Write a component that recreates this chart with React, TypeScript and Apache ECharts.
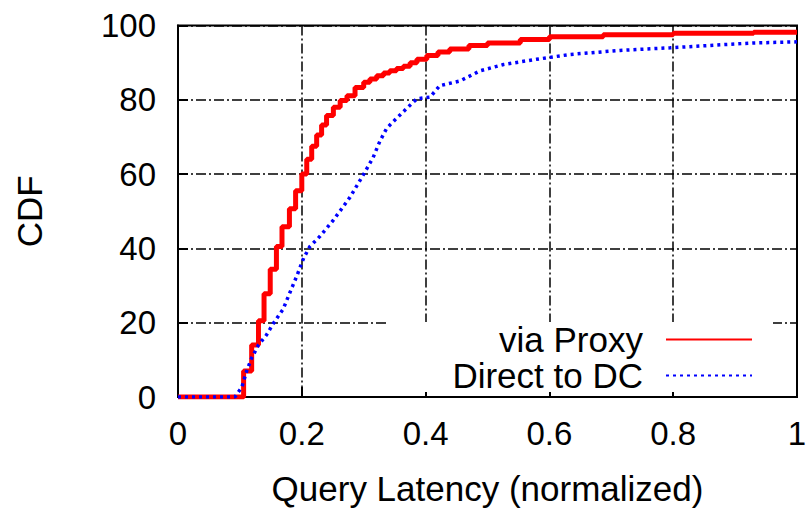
import React, { useEffect, useRef } from "react";
import * as echarts from "echarts";

const proxyLatency = [0, 0.106, 0.119, 0.13, 0.139, 0.149, 0.159, 0.168, 0.18, 0.19, 0.2, 0.208, 0.216, 0.224, 0.232, 0.24, 0.251, 0.262, 0.273, 0.286, 0.3, 0.31, 0.321, 0.332, 0.342, 0.353, 0.364, 0.375, 0.386, 0.402, 0.42, 0.439, 0.47, 0.5, 0.553, 0.6, 0.687, 0.8, 0.93, 1];
const proxyCdf = [0, 7, 14, 20.5, 27.8, 34.4, 40.5, 45.8, 50.7, 55.5, 60, 64, 67.5, 70.5, 73.2, 75.8, 78, 79.8, 81.1, 83.3, 84.7, 85.6, 86.5, 87.2, 87.8, 88.4, 89, 90, 90.9, 91.9, 92.9, 93.7, 94.6, 95.3, 96.2, 97, 97.5, 97.9, 98.2, 98.2];

const directLatency = [0, 0.092, 0.103, 0.111, 0.119, 0.13, 0.143, 0.154, 0.17, 0.181, 0.192, 0.203, 0.213, 0.229, 0.251, 0.278, 0.3, 0.315, 0.326, 0.337, 0.353, 0.369, 0.386, 0.407, 0.423, 0.456, 0.488, 0.526, 0.579, 0.633, 0.714, 0.795, 0.876, 0.929, 1];
const directCdf = [0, 0, 2.6, 7, 10.5, 14, 16.7, 19.8, 23.7, 28.2, 32.6, 37.4, 40.5, 43.2, 47.6, 53.8, 60, 64.4, 68.8, 72.3, 75, 77.6, 80.3, 80.7, 83.8, 85.1, 87.8, 89.5, 90.9, 92.2, 93.3, 94, 94.8, 95.3, 95.6];

const seriesNames = ["via Proxy", "Direct to DC"];
const xTitle = "Query Latency (normalized)";
const yTitle = "CDF";

const FONT = "'Liberation Sans', Arial, Helvetica, sans-serif";

export default function App() {
  const ref = useRef<HTMLDivElement>(null);
  useEffect(() => {
    if (!ref.current) return;
    const chart = echarts.init(ref.current, null, { renderer: "svg" });
    const gridLine = {
      show: true,
      lineStyle: { color: "#000", width: 1.5, type: [10, 3, 2, 3] },
    };
    const legendBase = {
      orient: "vertical",
      align: "right",
      right: 57,
      padding: 0,
      itemWidth: 86,
      itemHeight: 8,
      itemStyle: { opacity: 0 },
      textStyle: { fontFamily: FONT, fontSize: 35, color: "#000", padding: [0, 18, 0, 0] },
    };
    chart.setOption({
      animation: false,
      backgroundColor: "#fff",
      grid: {
        left: 178,
        right: 13,
        top: 25.5,
        bottom: 108,
        show: true,
        borderColor: "#000",
        borderWidth: 2,
        backgroundColor: "transparent",
      },
      xAxis: {
        type: "value",
        min: 0,
        max: 1,
        interval: 0.2,
        name: xTitle,
        nameLocation: "middle",
        nameGap: 74,
        nameTextStyle: { fontFamily: FONT, fontSize: 35, color: "#000" },
        axisLine: { show: true, lineStyle: { color: "#000", width: 2 } },
        axisTick: { show: true, inside: true, length: 10, lineStyle: { color: "#000", width: 2 } },
        axisLabel: { fontFamily: FONT, fontSize: 33, color: "#000", margin: 20 },
        splitLine: gridLine,
      },
      yAxis: {
        type: "value",
        min: 0,
        max: 100,
        interval: 20,
        name: yTitle,
        nameLocation: "middle",
        nameRotate: 90,
        nameGap: 131,
        nameTextStyle: { fontFamily: FONT, fontSize: 35, color: "#000" },
        axisLine: { show: true, lineStyle: { color: "#000", width: 2 } },
        axisTick: { show: true, inside: true, length: 10, lineStyle: { color: "#000", width: 2 } },
        axisLabel: { fontFamily: FONT, fontSize: 33, color: "#000", margin: 22 },
        splitLine: gridLine,
      },
      graphic: [
        {
          type: "rect",
          z: 1,
          shape: { x: 387, y: 322, width: 386, height: 70 },
          style: { fill: "#fff" },
          silent: true,
        },
      ],
      legend: [
        { ...legendBase, data: [seriesNames[0]], top: 322 },
        { ...legendBase, data: [seriesNames[1]], top: 358 },
      ],
      series: [
        {
          name: seriesNames[0],
          type: "line",
          step: "end",
          symbol: "none",
          data: proxyLatency.map((x, i) => [x, proxyCdf[i]]),
          lineStyle: { color: "#ff0000", width: 5 },
          itemStyle: { color: "#ff0000" },
        },
        {
          name: seriesNames[1],
          type: "line",
          symbol: "none",
          data: directLatency.map((x, i) => [x, directCdf[i]]),
          lineStyle: { color: "#0000ff", width: 3.5, type: [3, 4] },
          itemStyle: { color: "#0000ff" },
        },
      ],
    });
    return () => chart.dispose();
  }, []);
  return <div ref={ref} style={{ width: 810, height: 511, position: "absolute", left: 0, top: 0 }} />;
}
